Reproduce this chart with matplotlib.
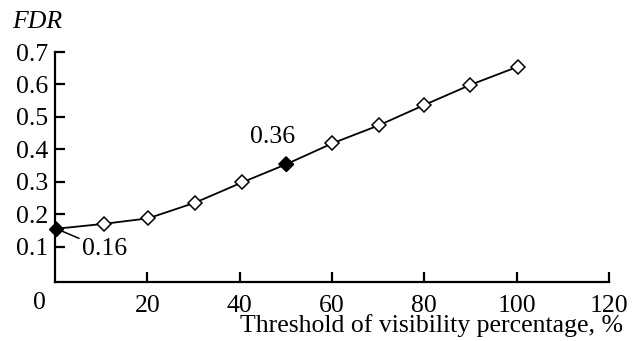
import matplotlib.pyplot as plt
import matplotlib.transforms as mtransforms

plt.rcParams['font.family'] = ['Liberation Serif', 'DejaVu Serif']

# Data
threshold = [0.3, 10.6, 20.2, 30.3, 40.6, 50.0, 60.1, 70.1, 80.0, 90.0, 100.3]
fdr = [0.156, 0.171, 0.188, 0.236, 0.299, 0.354, 0.419, 0.474, 0.537, 0.599, 0.655]
highlight = [0, 5]
x_ticks = [20, 40, 60, 80, 100, 120]
y_ticks = [0.1, 0.2, 0.3, 0.4, 0.5, 0.6, 0.7]

FS = 18.5

fig = plt.figure(figsize=(6.35, 3.41), dpi=100)
ax = fig.add_axes([55 / 635, 1 - 282 / 341, (609 - 55) / 635, (282 - 52) / 341])

ax.plot(threshold, fdr, color='black', linewidth=1.3, marker='D', markersize=7.5,
        markerfacecolor='white', markeredgecolor='black', markeredgewidth=1.1, zorder=3)
hx = [threshold[i] for i in highlight]
hy = [fdr[i] for i in highlight]
ax.plot(hx, hy, linestyle='none', marker='D', markersize=7.5,
        markerfacecolor='black', markeredgecolor='black', zorder=4, clip_on=False)

ax.set_xlim(0, 120)
ax.set_ylim(-0.008, 0.7)
ax.set_xticks(x_ticks)
ax.set_yticks(y_ticks)
ax.set_yticklabels([f'{v:.1f}' for v in y_ticks])

for side in ['top', 'right']:
    ax.spines[side].set_visible(False)
for side in ['left', 'bottom']:
    ax.spines[side].set_linewidth(1.6)

ax.tick_params(axis='both', direction='in', length=7, width=1.6, labelsize=FS)
ax.tick_params(axis='x', pad=9)
ax.tick_params(axis='y', pad=5)

# "0" on the x axis sits left of the corner
trans = mtransforms.blended_transform_factory(ax.transData, fig.transFigure)
ax.text(-3.3, 1 - 303 / 341, '0', transform=trans, ha='center', va='center', fontsize=FS)

# value labels
ax.annotate('0.16', xy=(threshold[0], fdr[0]), xytext=(5.8, 0.093),
            fontsize=FS, ha='left', va='center',
            arrowprops=dict(arrowstyle='-', color='black', lw=1.1, shrinkA=0, shrinkB=0))
ax.text(47.2, 0.437, '0.36', fontsize=FS, ha='center', va='center')

fig.text(12 / 635, 1 - 22 / 341, 'FDR', fontsize=FS, style='italic', ha='left', va='center')
fig.text(623 / 635, 1 - 326 / 341, 'Threshold of visibility percentage, %',
         fontsize=FS, ha='right', va='center')

fig.savefig('out.png', dpi=100)
